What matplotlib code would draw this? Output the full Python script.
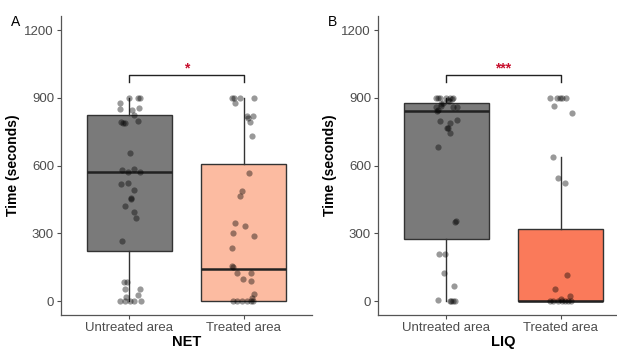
import matplotlib.pyplot as plt
import numpy as np

plt.rcParams["font.family"] = ["Liberation Sans", "DejaVu Sans"]

GROUPS = ["Untreated area", "Treated area"]

# box statistics: (whislo, q1, med, q3, whishi)
NET_STATS = [(0, 221, 571, 822, 900), (0, 0, 140, 608, 900)]
LIQ_STATS = [(0, 276, 840, 875, 900), (0, 0, 0, 317, 640)]

# jittered points: x offset from group centre, time in seconds
NET_UNTR_DX = [0.0, 0.075, 0.09, -0.084, -0.084, 0.026, 0.081, 0.04, -0.07, -0.055,
               -0.04, 0.072, 0.003, -0.064, -0.012, 0.04, 0.093, -0.075, -0.014, 0.04,
               0.01, 0.012, -0.035, 0.037, 0.055, -0.061, -0.052, -0.023, -0.04, 0.093,
               0.075, -0.084, -0.04, 0.003, 0.04, 0.098, -0.03]
NET_UNTR_Y = [900, 900, 900, 878, 851, 846, 855, 825, 794, 790,
              787, 796, 655, 579, 571, 583, 573, 520, 523, 493,
              455, 452, 422, 395, 366, 266, 85, 83, 52, 52,
              27, 0, 0, 0, 0, 0, 17]
NET_TR_DX = [-0.098, -0.084, -0.032, 0.09, -0.078, 0.032, 0.084, 0.055, 0.04, 0.075,
             0.052, -0.011, -0.035, -0.075, 0.009, -0.093, 0.096, -0.098, -0.098, -0.09,
             -0.055, 0.061, -0.006, 0.061, 0.09, 0.07, -0.09, -0.055, -0.011, 0.032,
             0.067, 0.084]
NET_TR_Y = [900, 900, 900, 900, 878, 819, 820, 794, 812, 731,
            568, 487, 466, 344, 332, 301, 288, 236, 156, 149,
            125, 125, 97, 90, 30, 14, 0, 0, 0, 0,
            0, 0]
LIQ_UNTR_DX = [-0.088, -0.073, -0.059, 0.0, 0.029, 0.059, 0.015, 0.045, -0.029, -0.044,
               -0.094, -0.073, -0.079, 0.059, 0.096, -0.059, 0.032, 0.096, 0.003, 0.01,
               0.029, -0.07, 0.073, 0.088, -0.064, -0.015, -0.023, 0.067, -0.07, 0.029,
               0.044, 0.059, 0.073, -0.05, 0.02]
LIQ_UNTR_Y = [900, 900, 900, 900, 900, 900, 890, 895, 878, 872,
              858, 846, 843, 858, 858, 797, 790, 801, 767, 765,
              745, 683, 350, 356, 207, 208, 125, 66, 6, 0,
              0, 0, 0, 865, 885]
LIQ_TR_DX = [-0.094, -0.035, -0.006, 0.015, 0.046, -0.053, 0.099, -0.064, -0.026, 0.041,
             0.059, -0.05, 0.082, 0.0, -0.094, -0.064, -0.026, 0.009, 0.038, 0.067,
             0.088]
LIQ_TR_Y = [900, 900, 900, 900, 897, 863, 832, 640, 546, 523,
            116, 54, 23, 10, 0, 0, 0, 0, 0, 0,
            0]

PANELS = [
    ("A", "NET", NET_STATS, [(NET_UNTR_DX, NET_UNTR_Y), (NET_TR_DX, NET_TR_Y)],
     ["#7a7a7a", "#fcbba1"], "*"),
    ("B", "LIQ", LIQ_STATS, [(LIQ_UNTR_DX, LIQ_UNTR_Y), (LIQ_TR_DX, LIQ_TR_Y)],
     ["#7a7a7a", "#fa7a5a"], "***"),
]

fig = plt.figure(figsize=(6.17, 3.5), dpi=100)
positions = [[61 / 617, 0.101, 251 / 617, 0.852],
             [378 / 617, 0.101, 251 / 617, 0.852]]

for (letter, xlabel, stats, points, fills, sig), pos in zip(PANELS, positions):
    ax = fig.add_axes(pos)
    bstats = []
    for name, (lo, q1, med, q3, hi) in zip(GROUPS, stats):
        bstats.append(dict(label=name, whislo=lo, q1=q1, med=med, q3=q3, whishi=hi, fliers=[]))
    bp = ax.bxp(bstats, positions=[1, 2], widths=0.75, patch_artist=True, showcaps=False,
                boxprops=dict(edgecolor="#333333", linewidth=1.0),
                medianprops=dict(color="#222222", linewidth=1.8),
                whiskerprops=dict(color="#333333", linewidth=1.0))
    for patch, col in zip(bp["boxes"], fills):
        patch.set_facecolor(col)

    for i, (dx, ys) in enumerate(points):
        ax.scatter(np.array(dx) + i + 1, ys, s=20, color="black", alpha=0.4,
                   linewidths=0, zorder=5)

    # significance bracket
    ax.plot([1, 1, 2, 2], [970, 1000, 1000, 970], color="#222222", linewidth=1.0)
    ax.text(1.5, 1000, sig, color="#c8102e", ha="center", va="bottom", fontsize=10,
            fontweight="bold")

    ax.set_xlim(0.4, 2.6)
    ax.set_ylim(-60, 1260)
    ax.set_yticks([0, 300, 600, 900, 1200])
    ax.set_xticks([1, 2])
    ax.set_xticklabels(GROUPS)
    ax.tick_params(colors="#4d4d4d", labelsize=9.5, length=3, width=0.8, pad=2)
    ax.spines[["top", "right"]].set_visible(False)
    for s in ["left", "bottom"]:
        ax.spines[s].set_color("#555555")
        ax.spines[s].set_linewidth(0.9)
    ax.set_ylabel("Time (seconds)", fontsize=10, fontweight="bold", labelpad=3)
    ax.set_xlabel(xlabel, fontsize=10.5, fontweight="bold", labelpad=1)
    ax.text(-0.2, 0.98, letter, transform=ax.transAxes, fontsize=10, ha="left", va="center")

fig.savefig("out.png", dpi=100)
